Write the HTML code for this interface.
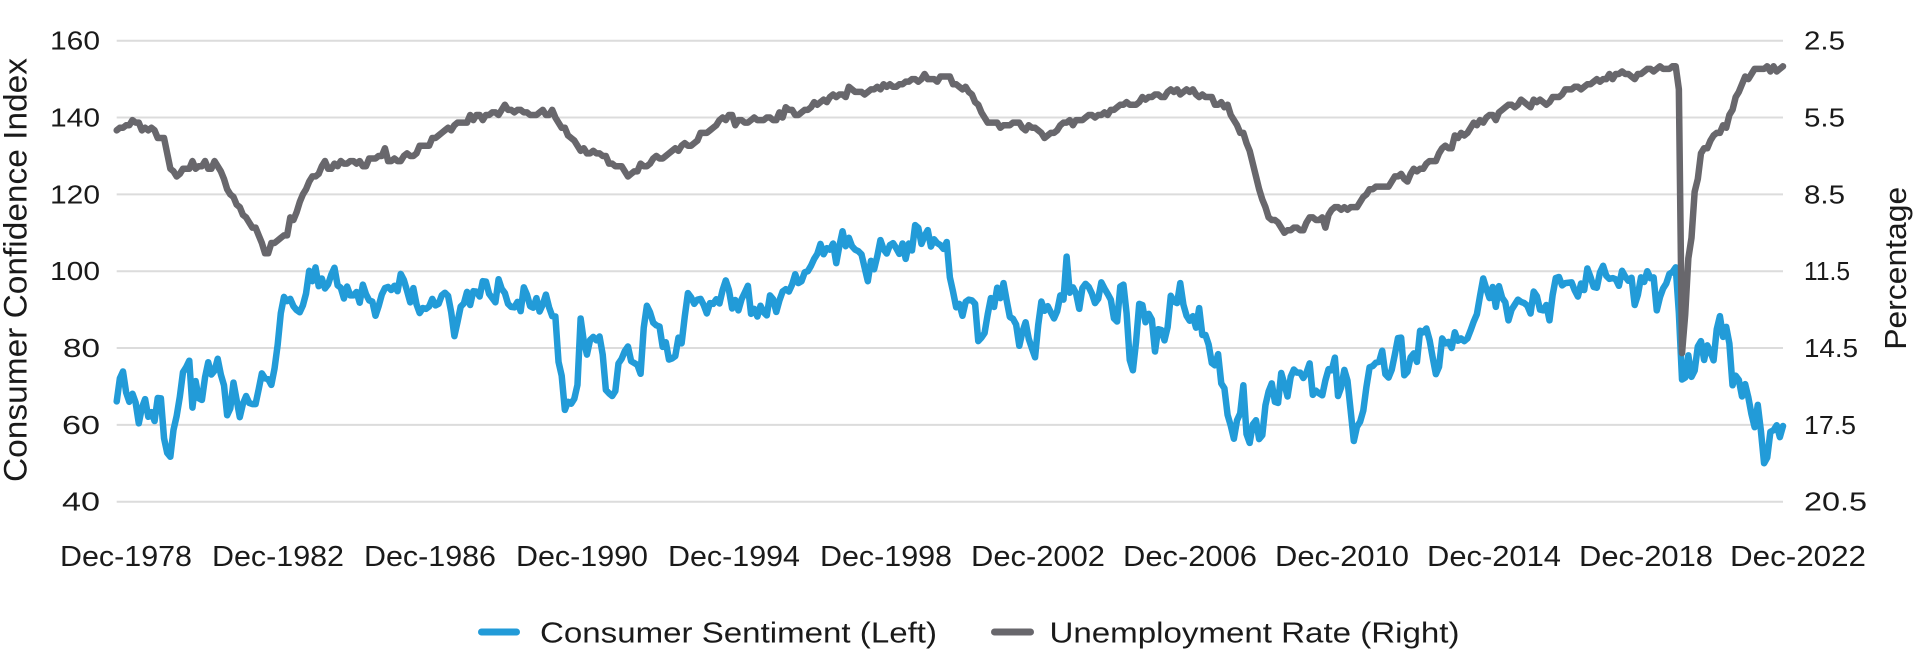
<!DOCTYPE html>
<html>
<head>
<meta charset="utf-8">
<style>
html,body{margin:0;padding:0;background:#fff;width:1913px;height:663px;overflow:hidden;}
svg{display:block;}
text{font-family:"Liberation Sans",Arial,sans-serif;fill:#1a1a1a;}
</style>
</head>
<body>
<svg width="1913" height="663" viewBox="0 0 1913 663" xmlns="http://www.w3.org/2000/svg">
<rect width="1913" height="663" fill="#fff"/>
<!-- gridlines -->
<g stroke="#dcdcdc" stroke-width="2">
<line x1="116.7" x2="1783" y1="40.7" y2="40.7"/>
<line x1="116.7" x2="1783" y1="117.5" y2="117.5"/>
<line x1="116.7" x2="1783" y1="194.4" y2="194.4"/>
<line x1="116.7" x2="1783" y1="271.2" y2="271.2"/>
<line x1="116.7" x2="1783" y1="348.0" y2="348.0"/>
<line x1="116.7" x2="1783" y1="424.9" y2="424.9"/>
<line x1="116.7" x2="1783" y1="501.7" y2="501.7"/>
</g>
<!-- left tick labels -->
<g font-size="26" text-anchor="end">
<text x="100" y="49.7" textLength="50" lengthAdjust="spacingAndGlyphs">160</text>
<text x="100" y="126.5" textLength="50" lengthAdjust="spacingAndGlyphs">140</text>
<text x="100" y="203.4" textLength="50" lengthAdjust="spacingAndGlyphs">120</text>
<text x="100" y="280.2" textLength="50" lengthAdjust="spacingAndGlyphs">100</text>
<text x="100" y="357.0" textLength="37" lengthAdjust="spacingAndGlyphs">80</text>
<text x="100" y="433.9" textLength="38" lengthAdjust="spacingAndGlyphs">60</text>
<text x="100" y="510.7" textLength="38" lengthAdjust="spacingAndGlyphs">40</text>
</g>
<!-- right tick labels -->
<g font-size="26" text-anchor="start">
<text x="1804" y="49.7" textLength="41" lengthAdjust="spacingAndGlyphs">2.5</text>
<text x="1804" y="126.5" textLength="41" lengthAdjust="spacingAndGlyphs">5.5</text>
<text x="1804" y="203.4" textLength="41" lengthAdjust="spacingAndGlyphs">8.5</text>
<text x="1804" y="280.2" textLength="46" lengthAdjust="spacingAndGlyphs">11.5</text>
<text x="1804" y="357.0" textLength="54" lengthAdjust="spacingAndGlyphs">14.5</text>
<text x="1804" y="433.9" textLength="52" lengthAdjust="spacingAndGlyphs">17.5</text>
<text x="1804" y="510.7" textLength="63" lengthAdjust="spacingAndGlyphs">20.5</text>
</g>
<!-- axis titles -->
<text transform="translate(26.5,270) rotate(-90)" font-size="32" text-anchor="middle" textLength="424" lengthAdjust="spacingAndGlyphs">Consumer Confidence Index</text>
<text transform="translate(1906,268.3) rotate(-90)" font-size="31" text-anchor="middle" textLength="163" lengthAdjust="spacingAndGlyphs">Percentage</text>
<!-- x labels -->
<g font-size="29" text-anchor="middle">
<text x="126" y="566" textLength="132" lengthAdjust="spacingAndGlyphs">Dec-1978</text>
<text x="278" y="566" textLength="132" lengthAdjust="spacingAndGlyphs">Dec-1982</text>
<text x="430" y="566" textLength="132" lengthAdjust="spacingAndGlyphs">Dec-1986</text>
<text x="582" y="566" textLength="132" lengthAdjust="spacingAndGlyphs">Dec-1990</text>
<text x="734" y="566" textLength="132" lengthAdjust="spacingAndGlyphs">Dec-1994</text>
<text x="886" y="566" textLength="132" lengthAdjust="spacingAndGlyphs">Dec-1998</text>
<text x="1038" y="566" textLength="134" lengthAdjust="spacingAndGlyphs">Dec-2002</text>
<text x="1190" y="566" textLength="134" lengthAdjust="spacingAndGlyphs">Dec-2006</text>
<text x="1342" y="566" textLength="134" lengthAdjust="spacingAndGlyphs">Dec-2010</text>
<text x="1494" y="566" textLength="134" lengthAdjust="spacingAndGlyphs">Dec-2014</text>
<text x="1646" y="566" textLength="134" lengthAdjust="spacingAndGlyphs">Dec-2018</text>
<text x="1798" y="566" textLength="136" lengthAdjust="spacingAndGlyphs">Dec-2022</text>
</g>
<!-- Consumer Sentiment (blue) -->
<polyline transform="matrix(3.1559 0 0 -3.8417 116.7 655.37)" vector-effect="non-scaling-stroke" fill="none" stroke="#229bd8" stroke-width="6.5" stroke-linejoin="round" stroke-linecap="round" points="0,66.1 1,72.1 2,73.9 3,68.4 4,66 5,68.1 6,65.8 7,60.4 8,64.5 9,66.7 10,62.1 11,63.3 12,61
13,67 14,66.9 15,56.5 16,52.7 17,51.7 18,58.7 19,62.3 20,67.3 21,73.7 22,75 23,76.7 24,64.5
25,71.4 26,66.9 27,66.5 28,72.4 29,76.3 30,73.1 31,74.1 32,77.2 33,73.1 34,70.3 35,62.5 36,64.3
37,71 38,66.5 39,62 40,65.5 41,67.5 42,65.7 43,65.4 44,65.4 45,69.3 46,73.4 47,72.1 48,71.9
49,70.4 50,74.6 51,80.8 52,89.1 53,93.3 54,92.2 55,92.8 56,90.9 57,89.9 58,89.3 59,91.1 60,94.2
61,100.1 62,97.4 63,101 64,96.1 65,98.1 66,95.5 67,96.6 68,99.1 69,100.9 70,96.3 71,95.7 72,92.9
73,96 74,93.7 75,93.7 76,94.6 77,91.8 78,96.5 79,94 80,92.4 81,92.1 82,88.4 83,90.9 84,93.9
85,95.6 86,95.9 87,95.1 88,96.2 89,94.8 90,99.3 91,97.7 92,94.9 93,91.9 94,95.6 95,91.4 96,89.1
97,90.4 98,90.2 99,90.8 100,92.8 101,91.1 102,91.5 103,93.7 104,94.4 105,93.6 106,89.3 107,83.1 108,86.8
109,90.8 110,91.6 111,94.6 112,91.2 113,94.8 114,94.7 115,93.4 116,97.4 117,97.3 118,94.1 119,93 120,91.9
121,97.9 122,95.4 123,94.3 124,91.5 125,90.7 126,90.6 127,92 128,89.6 129,95.8 130,93.9 131,90.9 132,90.5
133,93 134,89.5 135,91.3 136,93.9 137,90.6 138,88.3 139,88.2 140,76.4 141,72.8 142,63.9 143,66 144,65.5
145,66.8 146,70.4 147,87.7 148,81.8 149,78.3 150,82.1 151,82.9 152,82 153,83 154,78.3 155,69.1 156,68.2
157,67.5 158,68.8 159,76 160,77.2 161,79.2 162,80.4 163,76.6 164,76.1 165,75.6 166,73.3 167,85.3 168,91
169,89.3 170,86.6 171,85.9 172,85.6 173,80.3 174,81.5 175,77 176,77.3 177,77.9 178,82.7 179,81.2 180,88.2
181,94.3 182,93.2 183,91.5 184,92.6 185,92.8 186,91.2 187,89 188,91.7 189,91.5 190,92.7 191,91.6 192,95.1
193,97.6 194,95.1 195,90.3 196,92.5 197,89.8 198,92.7 199,94.4 200,96.2 201,88.9 202,90.2 203,88.2 204,91
205,89.3 206,88.5 207,93.7 208,92.7 209,89.4 210,92.4 211,94.7 212,95.3 213,94.7 214,96.5 215,99.2 216,96.9
217,97.4 218,99.7 219,100 220,101.4 221,103.2 222,104.5 223,107.1 224,104.4 225,106 226,105.6 227,107.2 228,102.1
229,106.6 230,110.4 231,106.5 232,108.7 233,106.5 234,105.6 235,105.2 236,104.4 237,100.9 238,97.4 239,102.7 240,100.5
241,103.9 242,108.1 243,105.7 244,104.6 245,106.8 246,107.3 247,106 248,104.5 249,107.2 250,103.2 251,107.2 252,105.4
253,112 254,111.3 255,107.1 256,109.2 257,110.7 258,106.4 259,108.3 260,107.3 261,106.8 262,105.8 263,107.6 264,98.4
265,94.7 266,90.6 267,91.5 268,88.4 269,92 270,92.6 271,92.4 272,91.5 273,81.8 274,82.7 275,83.9 276,88.8
277,93 278,90.7 279,95.7 280,93 281,96.9 282,92.4 283,88.1 284,87.6 285,86.1 286,80.6 287,84.2 288,86.7
289,82.4 290,79.9 291,77.6 292,86 293,92.1 294,89.7 295,90.9 296,89.3 297,87.7 298,89.6 299,93.7 300,92.6
301,103.8 302,94.4 303,95.8 304,94.2 305,90.2 306,95.6 307,96.7 308,95.9 309,94.2 310,91.7 311,92.8 312,97.1
313,95.5 314,94.1 315,92.6 316,87.7 317,86.9 318,96 319,96.5 320,89.1 321,76.9 322,74.2 323,81.6 324,91.5
325,91.2 326,86.7 327,88.9 328,87.4 329,79.1 330,84.9 331,84.7 332,82 333,85.4 334,93.6 335,92.1 336,91.7
337,96.9 338,91.3 339,88.4 340,87.1 341,88.3 342,85.3 343,90.4 344,83.4 345,83.4 346,80.9 347,76.1 348,75.5
349,78.4 350,70.8 351,69.5 352,62.6 353,59.8 354,56.4 355,61.2 356,63 357,70.3 358,57.6 359,55.3 360,60.1
361,61.2 362,56.3 363,57.3 364,65.1 365,68.7 366,70.8 367,66 368,65.7 369,73.5 370,70.6 371,67.4 372,72.5
373,74.4 374,73.6 375,73.6 376,72.2 377,73.6 378,76 379,67.8 380,68.9 381,68.2 382,67.7 383,71.6 384,74.5
385,74.2 386,77.5 387,67.5 388,69.8 389,74.3 390,71.5 391,63.7 392,55.8 393,59.5 394,60.8 395,63.7 396,69.9
397,75 398,75.3 399,76.2 400,76.4 401,79.3 402,73.2 403,72.3 404,74.3 405,78.3 406,82.6 407,82.7 408,72.9
409,73.8 410,77.6 411,78.6 412,76.4 413,84.5 414,84.1 415,85.1 416,82.1 417,77.5 418,73.2 419,75.1 420,82.5
421,81.2 422,81.6 423,80 424,84.1 425,81.9 426,82.5 427,81.8 428,82.5 429,84.6 430,86.9 431,88.8 432,93.6
433,98.1 434,95.4 435,93 436,95.9 437,90.7 438,96.1 439,93.1 440,91.9 441,87.2 442,90 443,91.3 444,92.6
445,92 446,91.7 447,91 448,89 449,94.7 450,93.5 451,90 452,89.8 453,91.2 454,87.2 455,93.8 456,98.2
457,98.5 458,96.3 459,96.9 460,97 461,97.1 462,95 463,93.4 464,96.8 465,95.1 466,100.7 467,98.5 468,95.9
469,95.7 470,99.7 471,101.4 472,98.8 473,98 474,98.2 475,97.9 476,96.2 477,100.1 478,98.6 479,97.5 480,98.3
481,91.2 482,93.8 483,98.4 484,97.2 485,100 486,98.2 487,98.4 488,89.8 489,93.2 490,95.5 491,96.8 492,99.3
493,99.8 494,101 495,89.1 496,71.8 497,72.3 498,78.1 499,72.5 500,74.1 501,80.4 502,81.8 503,76.9 504,80.7
505,79 506,76.8 507,84.9 508,88.3 509,82.9 510,85.5 511,81.2 512,70.3 513,72.8 514,71.7 515,67.4 516,70.6
517,67.2 518,62.8 519,59.4 520,65.2 521,58.4 522,50 523,51.5 524,58.2 525,58.6 526,59.9 527,56.8 528,59.7"/>
<!-- Unemployment Rate (gray) -->
<polyline transform="matrix(3.1559 0 0 25.611 116.7 -23.33)" vector-effect="non-scaling-stroke" fill="none" stroke="#68676c" stroke-width="6.5" stroke-linejoin="round" stroke-linecap="round" points="0,6 1,5.9 2,5.9 3,5.8 4,5.8 5,5.6 6,5.7 7,5.7 8,6 9,5.9 10,6 11,5.9 12,6
13,6.3 14,6.3 15,6.3 16,6.9 17,7.5 18,7.6 19,7.8 20,7.7 21,7.5 22,7.5 23,7.5 24,7.2
25,7.5 26,7.4 27,7.4 28,7.2 29,7.5 30,7.5 31,7.2 32,7.4 33,7.6 34,7.9 35,8.3 36,8.5
37,8.6 38,8.9 39,9 40,9.3 41,9.4 42,9.6 43,9.8 44,9.8 45,10.1 46,10.4 47,10.8 48,10.8
49,10.4 50,10.4 51,10.3 52,10.2 53,10.1 54,10.1 55,9.4 56,9.5 57,9.2 58,8.8 59,8.5 60,8.3
61,8 62,7.8 63,7.8 64,7.7 65,7.4 66,7.2 67,7.5 68,7.5 69,7.3 70,7.4 71,7.2 72,7.3
73,7.3 74,7.2 75,7.2 76,7.3 77,7.2 78,7.4 79,7.4 80,7.1 81,7.1 82,7.1 83,7 84,7
85,6.7 86,7.2 87,7.2 88,7.1 89,7.2 90,7.2 91,7 92,6.9 93,7 94,7 95,6.9 96,6.6
97,6.6 98,6.6 99,6.6 100,6.3 101,6.3 102,6.2 103,6.1 104,6 105,5.9 106,6 107,5.8 108,5.7
109,5.7 110,5.7 111,5.7 112,5.4 113,5.6 114,5.4 115,5.4 116,5.6 117,5.4 118,5.4 119,5.3 120,5.3
121,5.4 122,5.2 123,5 124,5.2 125,5.2 126,5.3 127,5.2 128,5.2 129,5.3 130,5.3 131,5.4 132,5.4
133,5.4 134,5.3 135,5.2 136,5.4 137,5.4 138,5.2 139,5.5 140,5.7 141,5.9 142,5.9 143,6.2 144,6.3
145,6.4 146,6.6 147,6.8 148,6.7 149,6.9 150,6.9 151,6.8 152,6.9 153,6.9 154,7 155,7 156,7.3
157,7.3 158,7.4 159,7.4 160,7.4 161,7.6 162,7.8 163,7.7 164,7.6 165,7.6 166,7.3 167,7.4 168,7.4
169,7.3 170,7.1 171,7 172,7.1 173,7.1 174,7 175,6.9 176,6.8 177,6.7 178,6.8 179,6.6 180,6.5
181,6.6 182,6.6 183,6.5 184,6.4 185,6.1 186,6.1 187,6.1 188,6 189,5.9 190,5.8 191,5.6 192,5.5
193,5.6 194,5.4 195,5.4 196,5.8 197,5.6 198,5.6 199,5.7 200,5.7 201,5.6 202,5.5 203,5.6 204,5.6
205,5.6 206,5.5 207,5.5 208,5.6 209,5.6 210,5.3 211,5.5 212,5.1 213,5.2 214,5.2 215,5.4 216,5.4
217,5.3 218,5.2 219,5.2 220,5.1 221,4.9 222,5 223,4.9 224,4.8 225,4.9 226,4.7 227,4.6 228,4.7
229,4.6 230,4.6 231,4.7 232,4.3 233,4.4 234,4.5 235,4.5 236,4.5 237,4.6 238,4.5 239,4.4 240,4.4
241,4.3 242,4.4 243,4.2 244,4.3 245,4.2 246,4.3 247,4.3 248,4.2 249,4.2 250,4.1 251,4.1 252,4
253,4 254,4.1 255,4 256,3.8 257,4 258,4 259,4 260,4.1 261,3.9 262,3.9 263,3.9 264,3.9
265,4.2 266,4.2 267,4.3 268,4.4 269,4.3 270,4.5 271,4.6 272,4.9 273,5 274,5.3 275,5.5 276,5.7
277,5.7 278,5.7 279,5.7 280,5.9 281,5.8 282,5.8 283,5.8 284,5.7 285,5.7 286,5.7 287,5.9 288,6
289,5.8 290,5.9 291,5.9 292,6 293,6.1 294,6.3 295,6.2 296,6.1 297,6.1 298,6 299,5.8 300,5.7
301,5.7 302,5.6 303,5.8 304,5.6 305,5.6 306,5.6 307,5.5 308,5.4 309,5.4 310,5.5 311,5.4 312,5.4
313,5.3 314,5.4 315,5.2 316,5.2 317,5.1 318,5 319,5 320,4.9 321,5 322,5 323,5 324,4.9
325,4.7 326,4.8 327,4.7 328,4.7 329,4.6 330,4.6 331,4.7 332,4.7 333,4.5 334,4.4 335,4.5 336,4.4
337,4.6 338,4.5 339,4.4 340,4.5 341,4.4 342,4.6 343,4.7 344,4.6 345,4.7 346,4.7 347,4.7 348,5
349,5 350,4.9 351,5.1 352,5 353,5.4 354,5.6 355,5.8 356,6.1 357,6.1 358,6.5 359,6.8 360,7.3
361,7.8 362,8.3 363,8.7 364,9 365,9.4 366,9.5 367,9.5 368,9.6 369,9.8 370,10 371,9.9 372,9.9
373,9.8 374,9.8 375,9.9 376,9.9 377,9.6 378,9.4 379,9.4 380,9.5 381,9.5 382,9.4 383,9.8 384,9.3
385,9.1 386,9 387,9 388,9.1 389,9 390,9.1 391,9 392,9 393,9 394,8.8 395,8.6 396,8.5
397,8.3 398,8.3 399,8.2 400,8.2 401,8.2 402,8.2 403,8.2 404,8 405,7.8 406,7.8 407,7.7 408,7.9
409,8 410,7.7 411,7.5 412,7.6 413,7.5 414,7.5 415,7.3 416,7.2 417,7.2 418,7.2 419,6.9 420,6.7
421,6.6 422,6.7 423,6.7 424,6.2 425,6.3 426,6.1 427,6.2 428,6.1 429,5.9 430,5.7 431,5.8 432,5.6
433,5.7 434,5.5 435,5.4 436,5.4 437,5.6 438,5.3 439,5.2 440,5.1 441,5 442,5 443,5.1 444,5
445,4.8 446,4.9 447,5 448,5.1 449,4.8 450,4.9 451,4.8 452,4.9 453,5 454,4.9 455,4.7 456,4.7
457,4.7 458,4.6 459,4.4 460,4.4 461,4.4 462,4.3 463,4.3 464,4.4 465,4.3 466,4.2 467,4.2 468,4.1
469,4 470,4.1 471,4 472,4 473,3.8 474,4 475,3.8 476,3.8 477,3.7 478,3.8 479,3.8 480,3.9
481,4 482,3.8 483,3.8 484,3.7 485,3.6 486,3.6 487,3.7 488,3.6 489,3.5 490,3.6 491,3.6 492,3.6
493,3.5 494,3.5 495,4.4 496,14.7 497,13.2 498,11 499,10.2 500,8.4 501,7.9 502,6.9 503,6.7 504,6.7
505,6.4 506,6.2 507,6.1 508,6.1 509,5.8 510,5.9 511,5.4 512,5.2 513,4.7 514,4.5 515,4.2 516,3.9
517,4 518,3.8 519,3.6 520,3.6 521,3.6 522,3.6 523,3.5 524,3.7 525,3.5 526,3.7 527,3.6 528,3.5"/>
<!-- legend -->
<line x1="481.5" x2="516.5" y1="632" y2="632" stroke="#229bd8" stroke-width="7" stroke-linecap="round"/>
<text x="540" y="642.3" font-size="29" textLength="397" lengthAdjust="spacingAndGlyphs">Consumer Sentiment (Left)</text>
<line x1="994.5" x2="1030.5" y1="632" y2="632" stroke="#68676c" stroke-width="7" stroke-linecap="round"/>
<text x="1049.5" y="642.3" font-size="29" textLength="410" lengthAdjust="spacingAndGlyphs">Unemployment Rate (Right)</text>
</svg>
</body>
</html>
